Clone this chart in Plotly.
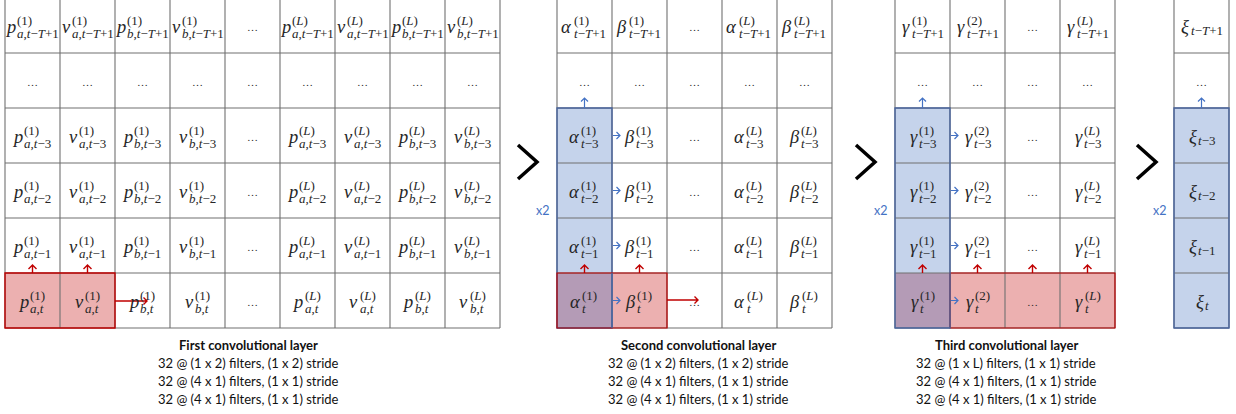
import re
import plotly.graph_objects as go

W, H = 1236, 414

# ---- content -------------------------------------------------------------
TIME_STEPS = ["t−T+1", "…", "t−3", "t−2", "t−1", "t"]

LAYER1_SYMBOLS = ["p", "v", "p", "v", "…", "p", "v", "p", "v"]
LAYER1_ASSETS = ["a", "a", "b", "b", "", "a", "a", "b", "b"]
LAYER1_CHANNELS = ["1", "1", "1", "1", "", "L", "L", "L", "L"]

LAYER2_SYMBOLS = ["α", "β", "…", "α", "β"]
LAYER2_CHANNELS = ["1", "1", "", "L", "L"]

LAYER3_SYMBOLS = ["γ", "γ", "…", "γ"]
LAYER3_CHANNELS = ["1", "2", "", "L"]

OUTPUT_SYMBOLS = ["ξ"]

CAPTION_TITLES = ["First convolutional layer", "Second convolutional layer",
                  "Third convolutional layer"]
CAPTION_LINES = [
    ["32 @ (1 x 2) filters, (1 x 2) stride",
     "32 @ (4 x 1) filters, (1 x 1) stride",
     "32 @ (4 x 1) filters, (1 x 1) stride"],
    ["32 @ (1 x 2) filters, (1 x 2) stride",
     "32 @ (4 x 1) filters, (1 x 1) stride",
     "32 @ (4 x 1) filters, (1 x 1) stride"],
    ["32 @ (1 x L) filters, (1 x 1) stride",
     "32 @ (4 x 1) filters, (1 x 1) stride",
     "32 @ (4 x 1) filters, (1 x 1) stride"],
]
REPEAT_LABEL = "x2"

# ---- geometry / style ----------------------------------------------------
ROW_EDGES = [-2, 53, 108, 163, 218, 273, 328]
CELL = 55
GRID_LEFT = [5, 557, 895, 1174]
GRID_COLS = [len(LAYER1_SYMBOLS), len(LAYER2_SYMBOLS), len(LAYER3_SYMBOLS), len(OUTPUT_SYMBOLS)]
CAPTION_X = [248, 698, 1006]
CHEVRON_TIP = [537, 875, 1156]
REPEAT_X = [542, 880, 1159]

GRID_COLOR = "#707070"
BLUE_FILL = "#c5d3eb"
BLUE_EDGE = "#4a66a0"
PINK_FILL = "#ecb0b0"
RED_EDGE = "#c00000"
PURPLE_FILL = "#b49bb6"
ARROW_BLUE = "#4472c4"
TEXT = "#262626"

MATH_FONT = "Liberation Serif"
MAIN_SIZE = 18.5
SCRIPT_SIZE = 13
CAPTION_FONT = "Lato"

CHAR_EM = {"t": 0.28, ",": 0.25, "−": 0.56, "+": 0.56, "(": 0.33, ")": 0.33,
           "T": 0.56, "L": 0.56, "…": 1.0, "1": 0.5}


def text_w(s, size):
    return sum(CHAR_EM.get(c, 0.5) for c in s) * size


def ital(s):
    return re.sub(r"([A-Za-z])", r"<i>\1</i>", s)


fig = go.Figure()
shapes = []
annotations = []


def row_center(r):
    return (ROW_EDGES[r] + ROW_EDGES[r + 1]) / 2


def col_center(g, c):
    return GRID_LEFT[g] + CELL * (c + 0.5)


def cell_rect(g, c0, c1, r0, r1, fill, edge=None, width=1.4):
    shapes.append(dict(type="rect", xref="x", yref="y",
                       x0=GRID_LEFT[g] + CELL * c0, x1=GRID_LEFT[g] + CELL * c1,
                       y0=ROW_EDGES[r0], y1=ROW_EDGES[r1],
                       fillcolor=fill if fill else "rgba(0,0,0,0)",
                       line=dict(color=edge if edge else "rgba(0,0,0,0)", width=width if edge else 0)))


def arrow(x0, y0, x1, y1, color, head=4, width=1.4):
    if x1 != x0:
        d = 1 if x1 > x0 else -1
        hp = f"M {x1 - d*head} {y1 - head} L {x1} {y1} L {x1 - d*head} {y1 + head}"
    else:
        d = 1 if y1 > y0 else -1
        hp = f"M {x1 - head} {y1 - d*head} L {x1} {y1} L {x1 + head} {y1 - d*head}"
    shapes.append(dict(type="path", xref="x", yref="y",
                       path=f"M {x0} {y0} L {x1} {y1} " + hp,
                       line=dict(color=color, width=width)))


def txt(x, y, s, size, anchor="center", font=MATH_FONT, color=TEXT):
    annotations.append(dict(x=x, y=y, xref="x", yref="y", text=s, showarrow=False,
                            xanchor=anchor, yanchor="middle", borderpad=0,
                            font=dict(family=font, size=size, color=color)))


def math_cell(cx, cy, sym, sup_plain, sub_plain):
    if sym == "…" or sub_plain == "…":
        txt(cx, cy + 1, "…", 11)
        return
    lw = text_w(sym, MAIN_SIZE) * 0.95
    sw = max(text_w(sup_plain, SCRIPT_SIZE), text_w(sub_plain, SCRIPT_SIZE))
    x0 = cx - (lw + sw) / 2 + lw
    txt(x0 + 0.5, cy + 1.5, f"<i>{sym}</i>", MAIN_SIZE, anchor="right")
    if sup_plain:
        txt(x0, cy - 5.5, "(" + ital(sup_plain[1:-1]) + ")", SCRIPT_SIZE, anchor="left")
        txt(x0, cy + 7.5, ital(sub_plain), SCRIPT_SIZE, anchor="left")
    else:
        txt(x0, cy + 5, ital(sub_plain), SCRIPT_SIZE, anchor="left")


# ---- highlighted blocks (fills) ----
n_rows = len(TIME_STEPS)
# layer 1: filter window over the last row, first two columns
cell_rect(0, 0, 2, n_rows - 1, n_rows, PINK_FILL)
# layer 2
cell_rect(1, 0, 1, 2, n_rows - 1, BLUE_FILL)
cell_rect(1, 0, 1, n_rows - 1, n_rows, PURPLE_FILL)
cell_rect(1, 1, 2, n_rows - 1, n_rows, PINK_FILL)
# layer 3
cell_rect(2, 0, 1, 2, n_rows - 1, BLUE_FILL)
cell_rect(2, 0, 1, n_rows - 1, n_rows, PURPLE_FILL)
cell_rect(2, 1, GRID_COLS[2], n_rows - 1, n_rows, PINK_FILL)
# output column
cell_rect(3, 0, 1, 2, n_rows, BLUE_FILL)

# ---- grid lines ----
for g in range(4):
    left = GRID_LEFT[g]
    right = left + CELL * GRID_COLS[g]
    for y in ROW_EDGES[1:]:
        shapes.append(dict(type="line", xref="x", yref="y", x0=left, x1=right, y0=y, y1=y,
                           line=dict(color=GRID_COLOR, width=1.1)))
    for c in range(GRID_COLS[g] + 1):
        x = left + CELL * c
        shapes.append(dict(type="line", xref="x", yref="y", x0=x, x1=x, y0=0, y1=ROW_EDGES[-1],
                           line=dict(color=GRID_COLOR, width=1.1)))

# ---- highlighted block outlines ----
cell_rect(1, 0, 1, 2, n_rows, None, BLUE_EDGE)
cell_rect(3, 0, 1, 2, n_rows, None, BLUE_EDGE)
cell_rect(0, 0, 2, n_rows - 1, n_rows, None, RED_EDGE)
cell_rect(1, 0, 2, n_rows - 1, n_rows, None, RED_EDGE, 1.2)
shapes.append(dict(type="line", xref="x", yref="y",
                   x0=GRID_LEFT[1] + CELL, x1=GRID_LEFT[1] + CELL,
                   y0=ROW_EDGES[-2], y1=ROW_EDGES[-1], line=dict(color=BLUE_EDGE, width=1.2)))
cell_rect(2, 1, GRID_COLS[2], n_rows - 1, n_rows, None, RED_EDGE, 1.2)
cell_rect(2, 0, 1, 2, n_rows, None, BLUE_EDGE)

# ---- cell labels ----
for c, sym in enumerate(LAYER1_SYMBOLS):
    for r, ts in enumerate(TIME_STEPS):
        sub = f"{LAYER1_ASSETS[c]},{ts}" if sym != "…" else ""
        math_cell(col_center(0, c), row_center(r), sym, f"({LAYER1_CHANNELS[c]})", sub if ts != "…" else "…")
for c, sym in enumerate(LAYER2_SYMBOLS):
    for r, ts in enumerate(TIME_STEPS):
        math_cell(col_center(1, c), row_center(r), sym, f"({LAYER2_CHANNELS[c]})", ts)
for c, sym in enumerate(LAYER3_SYMBOLS):
    for r, ts in enumerate(TIME_STEPS):
        math_cell(col_center(2, c), row_center(r), sym, f"({LAYER3_CHANNELS[c]})", ts)
for c, sym in enumerate(OUTPUT_SYMBOLS):
    for r, ts in enumerate(TIME_STEPS):
        math_cell(col_center(3, c), row_center(r), sym, "", ts)

# ---- arrows ----
last_top = ROW_EDGES[-2]
for c in range(2):
    arrow(col_center(0, c), last_top, col_center(0, c), last_top - 8, RED_EDGE)
    arrow(col_center(1, c), last_top, col_center(1, c), last_top - 8, RED_EDGE)
for c in range(GRID_COLS[2]):
    arrow(col_center(2, c), last_top, col_center(2, c), last_top - 8, RED_EDGE)
arrow(GRID_LEFT[0] + 2 * CELL, 301, GRID_LEFT[0] + 2 * CELL + 32, 301, RED_EDGE, head=3.5)
arrow(GRID_LEFT[1] + 2 * CELL, 300, GRID_LEFT[1] + 2 * CELL + 31, 300, RED_EDGE, head=3.5)
for g in (1, 2):
    xe = GRID_LEFT[g] + CELL
    for r in range(2, n_rows):
        arrow(xe + 1, row_center(r), xe + 8, row_center(r), ARROW_BLUE, head=3.5, width=1.2)
for g in (1, 2, 3):
    arrow(col_center(g, 0), ROW_EDGES[2], col_center(g, 0), ROW_EDGES[2] - 10, ARROW_BLUE, head=3.5, width=1.2)

# ---- chevrons between stages ----
for tip in CHEVRON_TIP:
    shapes.append(dict(type="path", xref="x", yref="y",
                       path=f"M {tip - 19} 145 L {tip} 162 L {tip - 19} 179",
                       line=dict(color="black", width=3.5)))

# ---- repeat markers ----
for x in REPEAT_X:
    txt(x, 210, REPEAT_LABEL, 12.5, font=CAPTION_FONT, color=ARROW_BLUE)

# ---- captions ----
for i, cx in enumerate(CAPTION_X):
    txt(cx, 345, f"<b>{CAPTION_TITLES[i]}</b>", 13, font=CAPTION_FONT, color="#111111")
    for j, line in enumerate(CAPTION_LINES[i]):
        txt(cx, 363 + 18 * j, line, 13, font=CAPTION_FONT, color="#111111")

fig.update_layout(
    width=W, height=H, margin=dict(l=0, r=0, t=0, b=0),
    paper_bgcolor="white", plot_bgcolor="white",
    xaxis=dict(range=[0, W], visible=False, fixedrange=True),
    yaxis=dict(range=[H, 0], visible=False, fixedrange=True),
    shapes=shapes, annotations=annotations, showlegend=False,
)
fig.write_html("out.html")
